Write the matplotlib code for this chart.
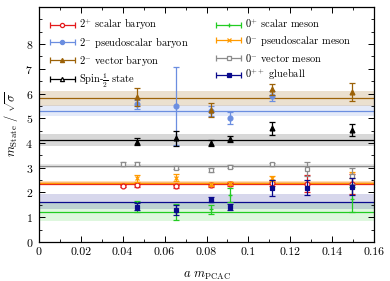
import numpy as np
import matplotlib
matplotlib.use("Agg")
import matplotlib.pyplot as plt
from matplotlib.legend_handler import HandlerErrorbar

plt.rcParams['font.family'] = 'serif'
plt.rcParams['font.serif'] = ['cmr10', 'DejaVu Serif']
plt.rcParams['mathtext.fontset'] = 'cm'
plt.rcParams['axes.formatter.use_mathtext'] = True
plt.rcParams['font.size'] = 8

# x positions (a m_PCAC)
x_scalar_baryon = [0.0404, 0.0469, 0.0656, 0.082, 0.091, 0.111, 0.1277, 0.1493]
y_scalar_baryon = [2.26, 2.30, 2.26, 2.30, 2.35, 2.40, 2.35, 2.35]
e_scalar_baryon = [0.05, 0.06, 0.06, 0.06, 0.08, 0.12, 0.35, 0.40]
fit_scalar_baryon = (2.36, 0.05)

x_ps_baryon = [0.0469, 0.0656, 0.082, 0.091, 0.111]
y_ps_baryon = [5.56, 5.51, 5.30, 5.02, 5.91]
e_ps_baryon = [0.20, 1.58, 0.20, 0.24, 0.20]
fit_ps_baryon = (5.31, 0.22)

x_vec_baryon = [0.0469, 0.082, 0.111, 0.1493]
y_vec_baryon = [5.87, 5.33, 6.17, 6.07]
e_vec_baryon = [0.37, 0.28, 0.22, 0.36]
fit_vec_baryon = (5.81, 0.30)

x_spin_half = [0.0469, 0.0656, 0.082, 0.091, 0.111, 0.1493]
y_spin_half = [4.05, 4.19, 4.01, 4.17, 4.59, 4.52]
e_spin_half = [0.14, 0.29, 0.12, 0.12, 0.27, 0.24]
fit_spin_half = (4.11, 0.25)

x_scalar_meson = [0.0469, 0.0656, 0.082, 0.091, 0.1493]
y_scalar_meson = [1.43, 1.22, 1.32, 1.90, 1.72]
e_scalar_meson = [0.23, 0.33, 0.17, 0.30, 0.50]
fit_scalar_meson = (1.20, 0.37)

x_ps_meson = [0.0469, 0.0656, 0.082, 0.091, 0.111, 0.1493]
y_ps_meson = [2.57, 2.60, 2.33, 2.37, 2.57, 2.71]
e_ps_meson = [0.15, 0.15, 0.07, 0.07, 0.10, 0.12]
fit_ps_meson = (2.38, 0.07)

x_vec_meson = [0.0404, 0.0469, 0.0656, 0.082, 0.091, 0.111, 0.1277, 0.1493]
y_vec_meson = [3.15, 3.16, 3.00, 2.91, 3.04, 3.14, 2.94, 2.68]
e_vec_meson = [0.07, 0.06, 0.06, 0.07, 0.06, 0.06, 0.29, 0.33]
fit_vec_meson = (3.07, 0.07)

x_glueball = [0.0469, 0.0656, 0.082, 0.091, 0.111, 0.1277, 0.1493]
y_glueball = [1.43, 1.29, 1.70, 1.43, 2.17, 2.20, 2.23]
e_glueball = [0.15, 0.20, 0.10, 0.12, 0.33, 0.32, 0.35]
fit_glueball = (1.63, 0.30)

series = [
    (r'$2^{+}$ scalar baryon', x_scalar_baryon, y_scalar_baryon, e_scalar_baryon, fit_scalar_baryon, '#e41a1c', 'o', 'white'),
    (r'$2^{-}$ pseudoscalar baryon', x_ps_baryon, y_ps_baryon, e_ps_baryon, fit_ps_baryon, '#6b8ee0', 'o', '#6b8ee0'),
    (r'$2^{-}$ vector baryon', x_vec_baryon, y_vec_baryon, e_vec_baryon, fit_vec_baryon, '#9c6208', '^', '#9c6208'),
    (r'Spin-$\frac{1}{2}$ state', x_spin_half, y_spin_half, e_spin_half, fit_spin_half, 'black', '^', 'black'),
    (r'$0^{+}$ scalar meson', x_scalar_meson, y_scalar_meson, e_scalar_meson, fit_scalar_meson, '#22cc22', '+', '#22cc22'),
    (r'$0^{-}$ pseudoscalar meson', x_ps_meson, y_ps_meson, e_ps_meson, fit_ps_meson, '#ff9a00', 'x', '#ff9a00'),
    (r'$0^{-}$ vector meson', x_vec_meson, y_vec_meson, e_vec_meson, fit_vec_meson, '#8c8c8c', 's', 'white'),
    (r'$0^{++}$ glueball', x_glueball, y_glueball, e_glueball, fit_glueball, '#0a0a8c', 's', '#0a0a8c'),
]
band_colors = ['#e41a1c', '#6b8ee0', '#c8a878', '#909090', '#22cc22', '#ff9a00', '#b0b0b0', '#3a3aa0']
band_alpha = [0.25, 0.18, 0.35, 0.35, 0.15, 0.3, 0.3, 0.2]
legend_mfc = ['white', '#6b8ee0', '#9c6208', 'white', '#22cc22', '#ff9a00', 'white', '#0a0a8c']

fig = plt.figure(figsize=(3.9, 2.81), dpi=100)
ax = fig.add_axes([0.099, 0.139, 0.861, 0.836])

handles = []
for i, (label, xs, ys, es, fit, col, mk, mfc) in enumerate(series):
    c, w = fit
    ax.axhspan(c - w, c + w, color=band_colors[i], alpha=band_alpha[i], lw=0, zorder=1)
    ax.axhline(c, color=col, lw=0.9, zorder=2)
    ax.errorbar(xs, ys, yerr=es, fmt=mk, color=col, mfc=mfc, mec=col,
                ms=3.5, mew=0.9, elinewidth=0.9, capsize=2, capthick=0.9,
                zorder=3 + i * 0.1)
    # legend proxy: horizontal error bar style
    h = ax.errorbar([np.nan], [np.nan], xerr=[1.0], fmt=mk, color=col,
                    mfc=legend_mfc[i], mec=col, ms=3, mew=0.9, elinewidth=0.9,
                    capsize=2.5, capthick=0.9, label=label)
    handles.append(h)

ax.set_xlim(0, 0.16)
ax.set_ylim(0, 9.5)
ax.set_xticks(np.arange(0, 0.161, 0.02))
ax.set_xticklabels(['0', '0.02', '0.04', '0.06', '0.08', '0.1', '0.12', '0.14', '0.16'])
ax.set_xticks(np.arange(0, 0.161, 0.01), minor=True)
ax.set_yticks(range(0, 9))
ax.set_yticks(np.arange(0, 9.6, 0.5), minor=True)
ax.tick_params(which='both', direction='in', top=True, right=True, labelsize=8.5)
ax.tick_params(which='major', length=4, width=0.7, pad=4)
ax.tick_params(which='minor', length=2, width=0.6)
for s in ax.spines.values():
    s.set_linewidth(0.9)

ax.set_xlabel(r'$a\ m_{\rm PCAC}$', fontsize=9, labelpad=9)
ax.set_ylabel(r'$m_{\rm State}\ /\ \sqrt{\sigma}$', fontsize=9, labelpad=4)

ax.legend(handles=handles, ncol=2, loc='upper left', frameon=False, fontsize=7.5,
          handlelength=2.4, handletextpad=0.4, columnspacing=2.65, labelspacing=0.35,
          bbox_to_anchor=(0.005, 0.995),
          handler_map={type(handles[0]): HandlerErrorbar(xerr_size=1.2)})

fig.savefig('out.png', dpi=100)
